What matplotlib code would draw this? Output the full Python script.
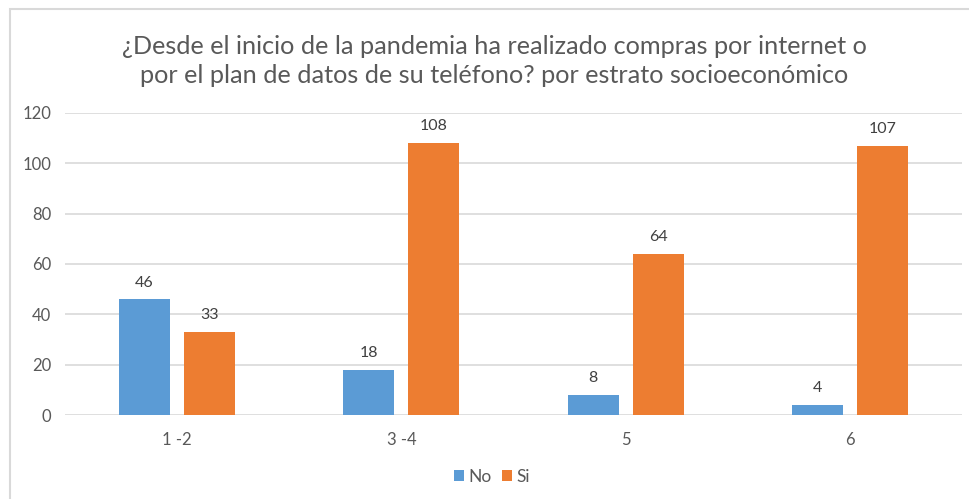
import numpy as np
import matplotlib.pyplot as plt
from matplotlib.patches import Rectangle

estratos = ['1 -2', '3 -4', '5', '6']
no_vals = [46, 18, 8, 4]
si_vals = [33, 108, 64, 107]
yticks = [0, 20, 40, 60, 80, 100, 120]

titulo = ('¿Desde el inicio de la pandemia ha realizado compras por internet o\n'
          'por el plan de datos de su teléfono? por estrato socioeconómico')

azul = '#5B9BD5'
naranja = '#ED7D31'
gris = '#595959'

plt.rcParams['font.family'] = ['Lato', 'DejaVu Sans']

fig = plt.figure(figsize=[9.7, 4.99], dpi=100)
ax = fig.add_axes([65/970, 84/499, 897/970, 302/499])

# marco gris del bloque del grafico
fig.patches.append(Rectangle((10/970, -0.1), 1.2, (499-9)/499 + 0.1,
                             transform=fig.transFigure, fill=False,
                             edgecolor='#D9D9D9', lw=1.5))

x = np.arange(len(estratos))
w = 0.227
off = 0.145
b1 = ax.bar(x - off, no_vals, w, color=azul, label='No', zorder=3)
b2 = ax.bar(x + off, si_vals, w, color=naranja, label='Si', zorder=3)

for bars in (b1, b2):
    for r in bars:
        ax.annotate(f'{int(r.get_height())}',
                    (r.get_x() + r.get_width()/2, r.get_height()),
                    xytext=(0, 7), textcoords='offset points',
                    ha='center', va='bottom', fontsize=11.5, color='#404040')

ax.set_xlim(-0.5, len(estratos) - 0.5)
ax.set_ylim(0, 120)
ax.set_yticks(yticks)
ax.set_xticks(x)
ax.set_xticklabels(estratos)
ax.grid(axis='y', color='#D9D9D9', lw=1.2, zorder=0)
for s in ax.spines.values():
    s.set_visible(False)
ax.tick_params(axis='both', length=0, labelsize=12, colors=gris, pad=10)
ax.tick_params(axis='x', pad=12)

fig.text(494/970, 1 - 61/499, titulo, ha='center', va='center',
         fontsize=18.2, color=gris, linespacing=1.3)

ax.legend(loc='center', bbox_to_anchor=(492/970, 1 - 477/499),
          bbox_transform=fig.transFigure, ncol=2, frameon=False,
          fontsize=12.5, handlelength=0.6, handleheight=0.6,
          columnspacing=0.6, handletextpad=0.25, labelcolor=gris)

fig.savefig('out.png', dpi=100)
